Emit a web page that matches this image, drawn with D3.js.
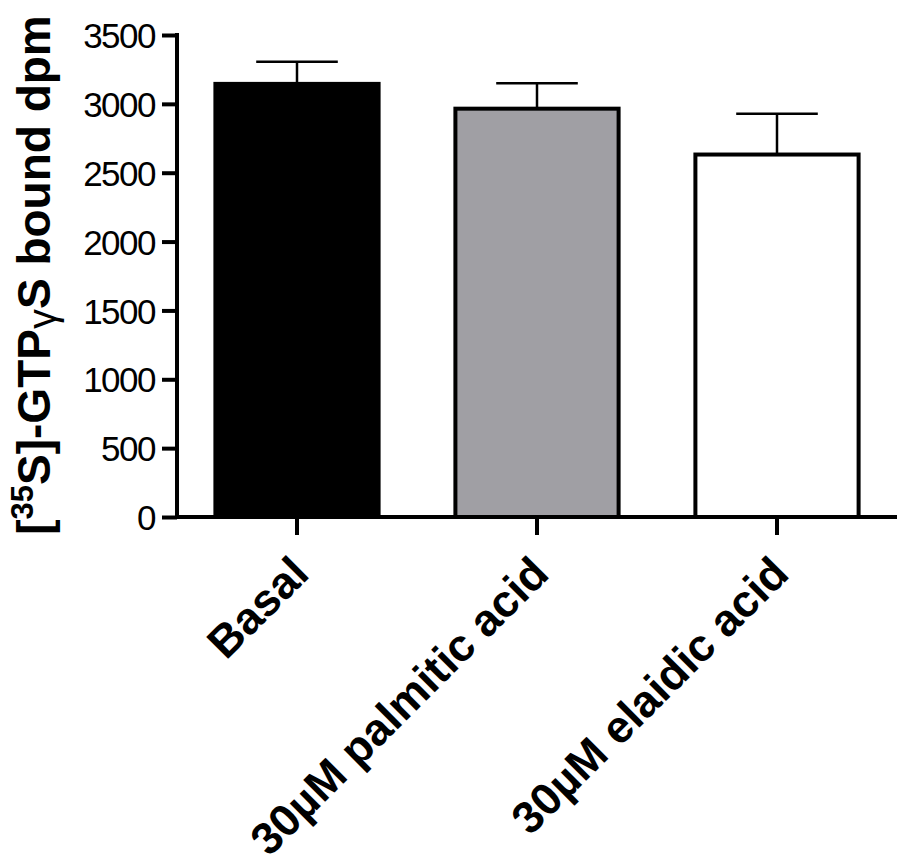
<!DOCTYPE html>
<html>
<head>
<meta charset="utf-8">
<script src="https://cdn.jsdelivr.net/npm/d3@7"></script>
<style>
  html, body { margin: 0; padding: 0; background: #fff; }
  svg { display: block; }
</style>
</head>
<body>
<script>
const categories = ["Basal", "30\u00b5M palmitic acid", "30\u00b5M elaidic acid"];
const values = [3145, 2965, 2632];
const errors = [160, 185, 297];
const fills = ["#000000", "#a09fa4", "#ffffff"];
const yTicks = [0, 500, 1000, 1500, 2000, 2500, 3000, 3500];

const W = 897, H = 867;
const FONT = "'Liberation Sans', Arial, Helvetica, sans-serif";
const svg = d3.select("body").append("svg").attr("width", W).attr("height", H);
svg.append("rect").attr("width", W).attr("height", H).attr("fill", "#fff");

const x0 = 177, x1 = 897, yTop = 35, yBot = 517;
const y = d3.scaleLinear().domain([0, 3500]).range([yBot, yTop]);
const x = d3.scaleBand().domain(categories).range([x0, x1]).paddingInner(0.32).paddingOuter(0.16);

// bars
svg.selectAll("rect.bar").data(categories).enter().append("rect")
  .attr("class", "bar")
  .attr("x", d => x(d))
  .attr("width", x.bandwidth())
  .attr("y", (d, i) => y(values[i]))
  .attr("height", (d, i) => y(0) - y(values[i]))
  .attr("fill", (d, i) => fills[i])
  .attr("stroke", "#000")
  .attr("stroke-width", 4);

// error bars (upper only)
const eg = svg.selectAll("g.err").data(categories).enter().append("g").attr("class", "err");
eg.append("line")
  .attr("x1", d => x(d) + x.bandwidth() / 2)
  .attr("x2", d => x(d) + x.bandwidth() / 2)
  .attr("y1", (d, i) => y(values[i]))
  .attr("y2", (d, i) => y(values[i] + errors[i]))
  .attr("stroke", "#000").attr("stroke-width", 2.5);
eg.append("line")
  .attr("x1", d => x(d) + x.bandwidth() / 4)
  .attr("x2", d => x(d) + x.bandwidth() * 3 / 4)
  .attr("y1", (d, i) => y(values[i] + errors[i]))
  .attr("y2", (d, i) => y(values[i] + errors[i]))
  .attr("stroke", "#000").attr("stroke-width", 2.5);

// y axis
const yAxis = d3.axisLeft(y).tickValues(yTicks).tickSize(15).tickSizeOuter(0).tickPadding(7).tickFormat(d3.format("d"));
const gy = svg.append("g").attr("transform", `translate(${x0},0)`).call(yAxis);
gy.select(".domain").attr("stroke", "#000").attr("stroke-width", 4).attr("d", `M0,${yTop - 2}V${yBot + 2}`);
gy.selectAll(".tick line").attr("stroke", "#000").attr("stroke-width", 4);
gy.selectAll(".tick text")
  .attr("font-family", FONT).attr("font-size", 35).attr("fill", "#000")
  .attr("letter-spacing", "-1.5px").attr("dy", "0.36em");

// x axis
const xAxis = d3.axisBottom(x).tickSize(18).tickSizeOuter(0).tickFormat("");
const gx = svg.append("g").attr("transform", `translate(0,${yBot})`).call(xAxis);
gx.select(".domain").attr("stroke", "#000").attr("stroke-width", 4).attr("d", `M${x0 - 2},0H${x1}`);
gx.selectAll(".tick line").attr("stroke", "#000").attr("stroke-width", 4);

// category labels rotated
svg.selectAll("text.cat").data(categories).enter().append("text")
  .attr("class", "cat")
  .attr("transform", d => `translate(${x(d) + x.bandwidth() / 2 + 14},576) rotate(-45)`)
  .attr("text-anchor", "end")
  .attr("font-family", FONT).attr("font-weight", "bold").attr("font-size", 45)
  .attr("fill", "#000")
  .text(d => d);

// y axis label
const yl = svg.append("text")
  .attr("transform", "translate(50,275) rotate(-90)")
  .attr("text-anchor", "middle")
  .attr("font-family", FONT).attr("font-weight", "bold").attr("font-size", 46)
  .attr("fill", "#000");
yl.append("tspan").text("[");
yl.append("tspan").attr("font-size", 31).attr("dy", -17).text("35");
yl.append("tspan").attr("dy", 17).text("S]-GTP");
yl.append("tspan").attr("font-weight", "normal").attr("font-size", 40).attr("dy", 6).text("\u03b3");
yl.append("tspan").attr("dy", -6).text("S bound dpm");
</script>
</body>
</html>
